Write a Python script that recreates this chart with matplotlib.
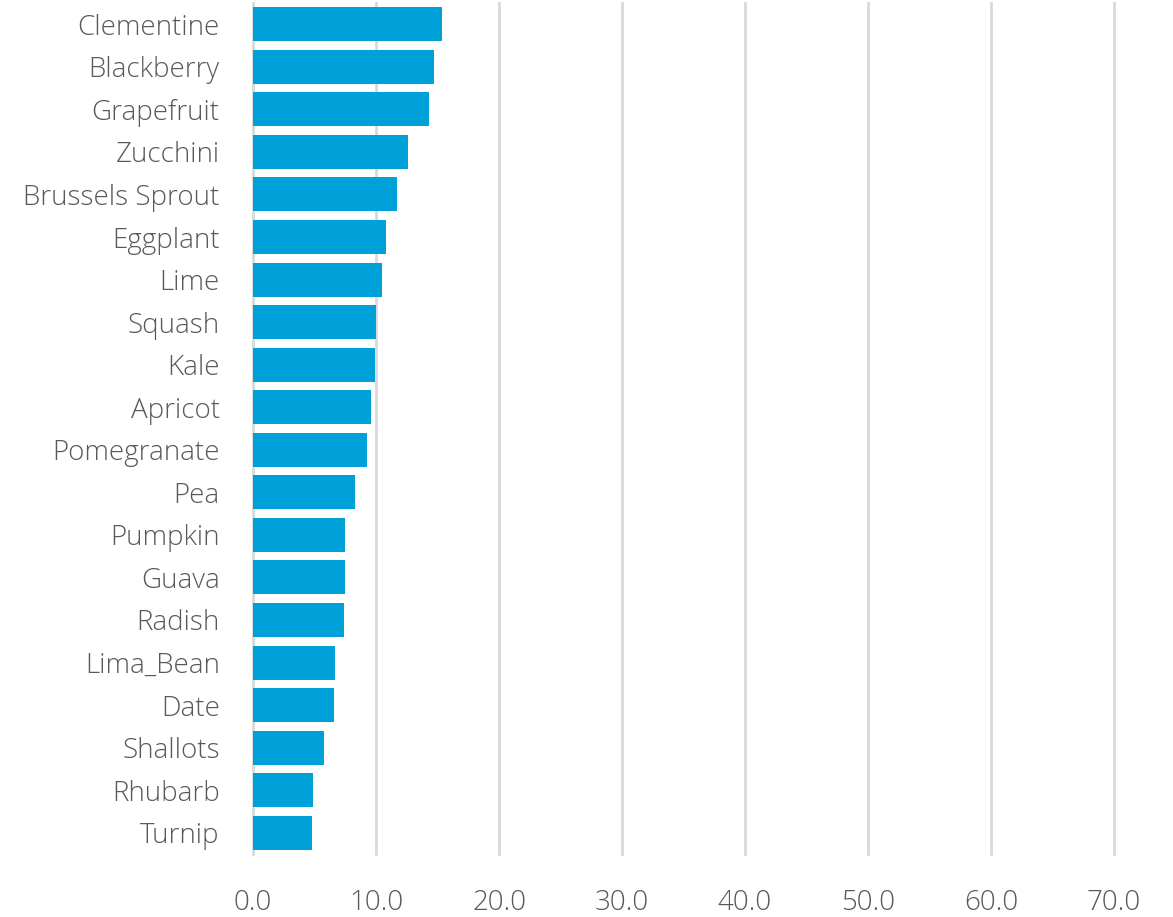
import matplotlib.pyplot as plt
import numpy as np

categories = ['Clementine', 'Blackberry', 'Grapefruit', 'Zucchini', 'Brussels Sprout',
              'Eggplant', 'Lime', 'Squash', 'Kale', 'Apricot', 'Pomegranate', 'Pea',
              'Pumpkin', 'Guava', 'Radish', 'Lima_Bean', 'Date', 'Shallots',
              'Rhubarb', 'Turnip']
values = [15.4, 14.7, 14.3, 12.6, 11.7, 10.8, 10.5, 10.0, 9.9, 9.6, 9.3, 8.3,
          7.5, 7.5, 7.4, 6.7, 6.6, 5.8, 4.9, 4.8]
xticks = [0, 10, 20, 30, 40, 50, 60, 70]

plt.rcParams['font.family'] = ['Open Sans', 'DejaVu Sans']

fig = plt.figure(figsize=(11.73, 9.17), dpi=100)
ax = fig.add_axes([253 / 1173, 1 - 854 / 917, 861 / 1173, 851 / 917])

y = np.arange(len(categories))
ax.barh(y, values, height=0.8, color='#00a0d9', zorder=3)

ax.set_ylim(len(categories) - 0.5, -0.5)
ax.set_xlim(0, 70)
ax.set_yticks(y)
ax.set_yticklabels(categories)
ax.set_xticks(xticks)
ax.set_xticklabels([f'{t:.1f}' for t in xticks])

ax.grid(axis='x', color='#d9d9d9', linewidth=2, zorder=0)
for gl in ax.get_xgridlines():
    gl.set_clip_on(False)
for s in ax.spines.values():
    s.set_visible(False)
ax.tick_params(axis='y', length=0, pad=24, labelsize=20, labelcolor='#595959')
ax.tick_params(axis='x', length=0, pad=25, labelsize=20, labelcolor='#595959')
for lab in ax.get_xticklabels() + ax.get_yticklabels():
    lab.set_fontweight('light')

plt.savefig('out.png', dpi=100)
